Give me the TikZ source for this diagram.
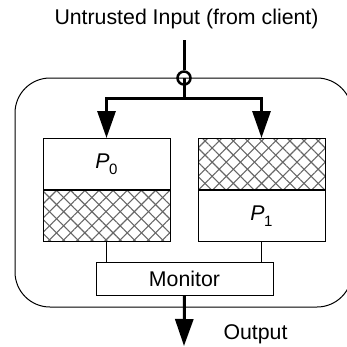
\documentclass[tikz,border=0pt]{standalone}
\usepackage{fontspec}
\setmainfont{Liberation Sans}
\usetikzlibrary{arrows.meta,patterns.meta}

\tikzset{
  labelfont/.style={font=\fontsize{21.3}{25}\selectfont},
  half/.style={draw, line width=1pt, minimum width=127pt, minimum height=51pt,
    inner sep=0pt, anchor=north},
  hatched/.style={half,
    preaction={pattern={Lines[angle=45,distance=10pt,line width=1.1pt]}, pattern color=black!60},
    pattern={Lines[angle=-45,distance=10pt,line width=1.1pt]}, pattern color=black!60},
  feed/.style={line width=3pt},
  feedarrow/.style={feed, -{Triangle[width=18pt,length=27pt]}},
  wire/.style={line width=0.8pt}
}

\newcommand{\procname}[1]{{\itshape P}\kern-0.5pt\raisebox{-0.28em}{\fontsize{15}{15}\selectfont #1}}

\begin{document}
\begin{tikzpicture}[x=1pt,y=-1pt]
  \useasboundingbox (0,0) rectangle (347,346);

  % enclosing region
  \draw[line width=1pt, rounded corners=35pt] (15,78) rectangle (352,307);

  % title and input feed
  \node[labelfont] (title) at (186.5,19) {Untrusted Input (from client)};
  \coordinate (in) at (184,40);
  \node[draw, circle, line width=2.5pt, minimum size=13pt, inner sep=0pt] (junction) at (184,78) {};
  \coordinate (split) at (184,98);

  % the two process variants
  \node[half, labelfont] (p0top) at (106.5,138) {\procname{0}};
  \node[hatched] (p0bot) at (p0top.south) {};
  \node[hatched] (p1top) at (261.5,138) {};
  \node[half, labelfont] (p1bot) at (p1top.south) {\procname{1}};

  % monitor
  \node[draw, line width=1pt, minimum width=177pt, minimum height=33pt, inner sep=0pt,
        labelfont] (monitor) at (184.5,278.5) {Monitor};
  \coordinate (out) at (184,346);
  \node[labelfont, anchor=west] (outlabel) at (220,334) {Output};

  % input distribution
  \draw[feed] (in) -- (junction.north);
  \draw[feed] (junction.center) -- (split);
  \draw[feedarrow] (split) -| (p0top.north);
  \draw[feedarrow] (split) -| (p1top.north);

  % links to the monitor
  \draw[wire] (p0bot.south) -- (p0bot.south |- monitor.north);
  \draw[wire] (p1bot.south) -- (p1bot.south |- monitor.north);

  % output
  \draw[feedarrow] (monitor.south) -- (out);
\end{tikzpicture}
\end{document}
